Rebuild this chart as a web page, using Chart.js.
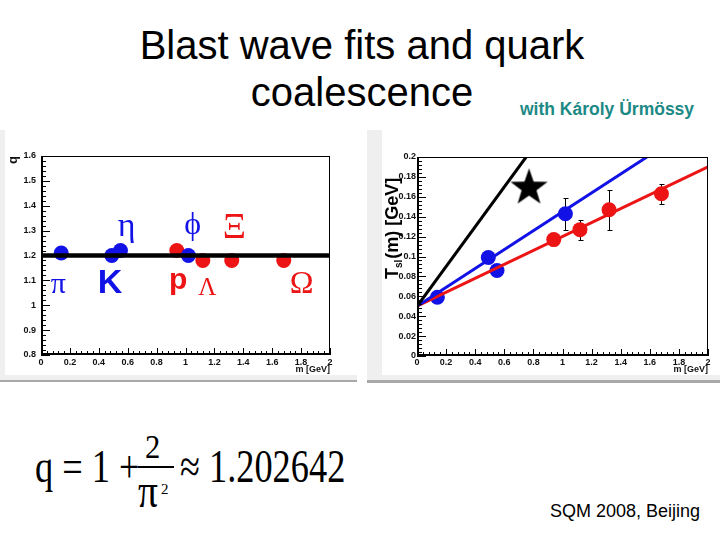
<!DOCTYPE html>
<html>
<head>
<meta charset="utf-8">
<title>Blast wave fits and quark coalescence</title>
<script src="https://cdn.jsdelivr.net/npm/chart.js@4.4.1/dist/chart.umd.min.js"></script>
<style>
  html, body { margin: 0; padding: 0; background: #fff; }
  body { position: relative; width: 720px; height: 540px; overflow: hidden; font-family: "Liberation Sans", Arial, sans-serif; color: #000; }
  .txt { position: absolute; white-space: nowrap; line-height: 1; }
  .serif { font-family: "Liberation Serif", "Times New Roman", serif; transform-origin: 0 0; }
  .panel { position: absolute; background: #efefef; }
  .rule { position: absolute; background: #a8a8a8; }
  #fracbar { position: absolute; left: 138px; top: 466px; width: 36px; height: 2px; background: #000; z-index: 10; }
  canvas { position: absolute; background: #fff; }
</style>
</head>
<body>
  <div class="txt" style="left:0;width:724px;text-align:center;top:25px;font-size:40px">Blast wave fits and quark</div>
  <div class="txt" style="left:0;width:724px;text-align:center;top:72px;font-size:40px">coalescence</div>
  <div class="txt" style="left:520px;top:101px;font-size:17.5px;font-weight:bold;color:#1d8985">with Károly Ürmössy</div>

  <div class="panel" style="left:0;top:130px;width:357px;height:250px"></div>
  <div class="rule" style="left:0;top:380px;width:357px;height:2px"></div>
  <canvas id="qChart" width="352" height="245" style="left:5px;top:130px"></canvas>

  <div class="panel" style="left:367px;top:130px;width:353px;height:250px"></div>
  <div class="rule" style="left:367px;top:380px;width:353px;height:3px"></div>
  <canvas id="tChart" width="338" height="245" style="left:382px;top:130px"></canvas>

  <!-- q = 1 + 2/pi^2 -->
  <div class="txt serif" style="left:35px;top:444px;font-size:46px;transform:scaleX(0.79)">q = 1 +</div>
  <div class="txt serif" style="left:145px;top:430px;font-size:34px;transform:scaleX(0.9)">2</div>
  <div id="fracbar"></div>
  <div class="txt serif" style="left:138px;top:467px;font-size:48px;transform:scaleX(0.82)">π</div>
  <div class="txt serif" style="left:161px;top:482px;font-size:15px">2</div>
  <div class="txt serif" style="left:180px;top:444px;font-size:46px;transform:scaleX(0.79)">≈ 1.202642</div>

  <div class="txt" style="left:550px;top:502px;font-size:18px">SQM 2008, Beijing</div>

<script>
// values, masses in GeV
const mesonNames = ["π", "K", "η", "ϕ"];
const mesonMass = [0.14, 0.49, 0.55, 1.02];
const mesonQ = [1.21, 1.20, 1.22, 1.20];
const mesonT = [0.059, 0.099, 0.086, 0.143];
const mesonTErr = [0, 0, 0, 0.016];

const baryonNames = ["p", "Λ", "Ξ", "Ω"];
const baryonMass = [0.94, 1.12, 1.32, 1.68];
const baryonQ = [1.22, 1.18, 1.18, 1.18];
const baryonT = [0.117, 0.127, 0.147, 0.163];
const baryonTErr = [0, 0.01, 0.02, 0.01];

// fitted lines (end points)
const qLineM = [0, 2];
const qLineQ = [1.2, 1.2];
const quarkLineM = [0, 0.75];
const quarkLineT = [0.05, 0.2];
const mesonLineM = [0, 1.58];
const mesonLineT = [0.05, 0.2];
const baryonLineM = [0, 2];
const baryonLineT = [0.05, 0.19];
const starM = [0.77];
const starT = [0.169];

// axis tick labels
const mTicks = [0, 0.2, 0.4, 0.6, 0.8, 1, 1.2, 1.4, 1.6, 1.8, 2];
const qTicks = [0.8, 0.9, 1, 1.1, 1.2, 1.3, 1.4, 1.5, 1.6];
const tTicks = [0, 0.02, 0.04, 0.06, 0.08, 0.1, 0.12, 0.14, 0.16, 0.18, 0.2];

const BLUE = "#1212e6";
const RED = "#ec1414";
const SANS = "'Liberation Sans', Arial, sans-serif";
const SERIF = "'Liberation Serif', 'Times New Roman', serif";

const pts = (xs, ys) => xs.map((x, i) => ({ x, y: ys[i] }));

// where the particle names sit on the q plot (data coords, text baseline)
const nameSpots = {
  "π": { m: 0.12, q: 1.049, font: `30px ${SERIF}` },
  "K": { m: 0.478, q: 1.049, font: `bold 34px ${SANS}` },
  "η": { m: 0.593, q: 1.278, font: `34px ${SERIF}` },
  "ϕ": { m: 1.05, q: 1.288, font: `32px ${SERIF}` },
  "p": { m: 0.95, q: 1.066, font: `bold 30px ${SANS}` },
  "Λ": { m: 1.151, q: 1.041, font: `25px ${SERIF}` },
  "Ξ": { m: 1.338, q: 1.269, font: `36px ${SERIF}` },
  "Ω": { m: 1.804, q: 1.048, font: `32px ${SERIF}` },
};

const starImage = (r) => {
  const c = document.createElement("canvas");
  c.width = c.height = 2 * r + 2;
  const g = c.getContext("2d");
  g.translate(r + 1, r + 1);
  g.beginPath();
  for (let i = 0; i < 10; i++) {
    const rad = i % 2 ? r * 0.4 : r;
    const ang = -Math.PI / 2 + (i * Math.PI) / 5;
    g.lineTo(rad * Math.cos(ang), rad * Math.sin(ang));
  }
  g.closePath();
  g.fillStyle = "#000";
  g.fill();
  return c;
};

const axisFont = { family: SANS, size: 9, weight: "bold" };

const rootScale = (ticks, min, max, size, pad, title) => ({
  type: "linear",
  min,
  max,
  grid: { display: false, drawTicks: false },
  border: { display: false },
  afterBuildTicks: (s) => { s.ticks = ticks.map((v) => ({ value: v })); },
  afterFit: (s) => { if (s.isHorizontal()) s.height = size; else s.width = size; },
  ticks: {
    font: axisFont,
    color: "#111",
    padding: pad,
    maxRotation: 0,
    autoSkip: false,
    callback: (v) => String(+Number(v).toFixed(3)),
  },
  title: title || { display: false },
});

// ROOT style frame with ticks pointing into the pad
const rootAxes = {
  id: "rootAxes",
  afterDatasetsDraw(chart) {
    const { ctx, chartArea: a, scales: { x, y } } = chart;
    const withMinor = (sc) => {
      const vals = sc.ticks.map((t) => t.value);
      const out = [];
      vals.forEach((v, i) => {
        out.push([v, true]);
        if (i < vals.length - 1) {
          const st = (vals[i + 1] - v) / 5;
          for (let k = 1; k < 5; k++) out.push([v + k * st, false]);
        }
      });
      return out;
    };
    ctx.save();
    ctx.strokeStyle = "#000";
    ctx.lineWidth = 1;
    ctx.strokeRect(a.left + 0.5, a.top + 0.5, a.width - 1, a.height - 1);
    ctx.lineWidth = 2;
    ctx.beginPath();
    ctx.moveTo(a.left + 1, a.top);
    ctx.lineTo(a.left + 1, a.bottom);
    ctx.moveTo(a.left, a.bottom - 1);
    ctx.lineTo(a.right, a.bottom - 1);
    ctx.stroke();
    ctx.lineWidth = 1;
    ctx.beginPath();
    withMinor(x).forEach(([v, major]) => {
      const px = Math.round(x.getPixelForValue(v)) + 0.5;
      ctx.moveTo(px, a.bottom);
      ctx.lineTo(px, a.bottom - (major ? 7 : 4));
    });
    withMinor(y).forEach(([v, major]) => {
      const py = Math.round(y.getPixelForValue(v)) + 0.5;
      ctx.moveTo(a.left, py);
      ctx.lineTo(a.left + (major ? 9 : 5), py);
    });
    ctx.stroke();
    ctx.restore();
  },
};

const errorBars = {
  id: "errorBars",
  beforeDatasetsDraw(chart) {
    const { ctx, scales: { x, y } } = chart;
    ctx.save();
    ctx.strokeStyle = "#000";
    ctx.lineWidth = 1;
    ctx.beginPath();
    chart.data.datasets.forEach((ds) => {
      if (!ds.errors) return;
      ds.data.forEach((p, i) => {
        const e = ds.errors[i];
        if (!e) return;
        const px = Math.round(x.getPixelForValue(p.x)) + 0.5;
        const y1 = Math.round(y.getPixelForValue(p.y + e)) + 0.5;
        const y2 = Math.round(y.getPixelForValue(p.y - e)) + 0.5;
        ctx.moveTo(px, y1); ctx.lineTo(px, y2);
        ctx.moveTo(px - 2, y1); ctx.lineTo(px + 3, y1);
        ctx.moveTo(px - 2, y2); ctx.lineTo(px + 3, y2);
      });
    });
    ctx.stroke();
    ctx.restore();
  },
};

const particleNames = {
  id: "particleNames",
  afterDatasetsDraw(chart) {
    const { ctx, scales: { x, y } } = chart;
    ctx.save();
    ctx.textAlign = "center";
    ctx.textBaseline = "alphabetic";
    const put = (name, color) => {
      const s = nameSpots[name];
      ctx.font = s.font;
      ctx.fillStyle = color;
      ctx.fillText(name, x.getPixelForValue(s.m), y.getPixelForValue(s.q));
    };
    mesonNames.forEach((n) => put(n, BLUE));
    baryonNames.forEach((n) => put(n, RED));
    ctx.restore();
  },
};

// rotated "T_sl(m) [GeV]" with a real subscript
const slopeTitle = {
  id: "slopeTitle",
  afterDraw(chart) {
    const { ctx } = chart;
    ctx.save();
    ctx.translate(16, 149);
    ctx.rotate(-Math.PI / 2);
    ctx.fillStyle = "#000";
    ctx.textBaseline = "alphabetic";
    ctx.font = `bold 18px ${SANS}`;
    ctx.fillText("T", 0, 0);
    let w = ctx.measureText("T").width;
    ctx.font = `bold 10px ${SANS}`;
    ctx.fillText("sl", w, 4);
    w += ctx.measureText("sl").width + 1;
    ctx.font = `bold 18px ${SANS}`;
    ctx.fillText("(m) [GeV]", w, 0);
    ctx.restore();
  },
};

const common = {
  responsive: false,
  animation: false,
  events: [],
  plugins: { legend: { display: false }, tooltip: { enabled: false } },
};

const massTitle = { display: true, text: "m [GeV]", align: "end", font: { family: SANS, size: 9, weight: "bold" }, color: "#111", padding: 0 };

new Chart(document.getElementById("qChart"), {
  type: "scatter",
  data: {
    datasets: [
      { data: pts(qLineM, qLineQ), showLine: true, borderColor: "#000", borderWidth: 4.5, pointRadius: 0, order: 0 },
      { data: pts(mesonMass, mesonQ), backgroundColor: BLUE, borderColor: BLUE, pointRadius: 7.5, borderWidth: 0, order: 1 },
      { data: pts(baryonMass, baryonQ), backgroundColor: RED, borderColor: RED, pointRadius: 7.5, borderWidth: 0, order: 2 },
    ],
  },
  options: {
    ...common,
    layout: { padding: { top: 26, right: 27, left: 0, bottom: 0 } },
    scales: {
      x: rootScale(mTicks, 0, 2, 20, 2, massTitle),
      y: rootScale(qTicks, 0.8, 1.6, 36, 5, {
        display: true, text: "q", align: "end", color: "#111",
        font: { family: SANS, size: 13, weight: "bold" }, padding: { top: 1, bottom: 0 },
      }),
    },
  },
  plugins: [particleNames, rootAxes],
});

new Chart(document.getElementById("tChart"), {
  type: "scatter",
  data: {
    datasets: [
      { data: pts(quarkLineM, quarkLineT), showLine: true, borderColor: "#000", borderWidth: 3, pointRadius: 0, order: 0 },
      { data: pts(mesonLineM, mesonLineT), showLine: true, borderColor: BLUE, borderWidth: 3, pointRadius: 0, order: 0 },
      { data: pts(baryonLineM, baryonLineT), showLine: true, borderColor: RED, borderWidth: 3, pointRadius: 0, order: 0 },
      { data: pts(starM, starT), pointStyle: starImage(19.5), order: 1 },
      { data: pts(mesonMass, mesonT), errors: mesonTErr, backgroundColor: BLUE, borderColor: BLUE, pointRadius: 7.5, borderWidth: 0, order: 2 },
      { data: pts(baryonMass, baryonT), errors: baryonTErr, backgroundColor: RED, borderColor: RED, pointRadius: 7.5, borderWidth: 0, order: 3 },
    ],
  },
  options: {
    ...common,
    layout: { padding: { top: 27, right: 12, left: 0, bottom: 0 } },
    scales: {
      x: rootScale(mTicks, 0, 2, 19, 1, massTitle),
      y: rootScale(tTicks, 0, 0.2, 35, 1),
    },
  },
  plugins: [errorBars, rootAxes, slopeTitle],
});
</script>
</body>
</html>
